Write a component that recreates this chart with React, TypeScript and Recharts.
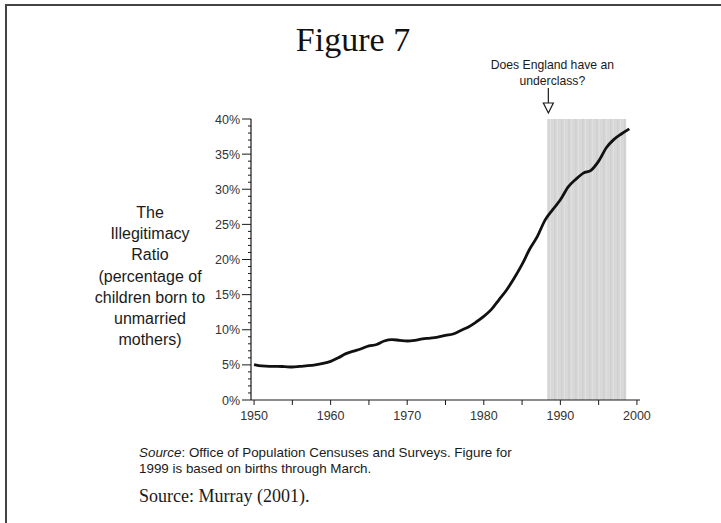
import React from 'react';
import {
  LineChart,
  Line,
  XAxis,
  YAxis,
  ReferenceArea,
  Label,
} from 'recharts';

// Illegitimacy ratio in England & Wales, 1950–1999 (percent)
const years = [
  1950, 1951, 1952, 1953, 1954, 1955, 1956, 1957, 1958, 1959,
  1960, 1961, 1962, 1963, 1964, 1965, 1966, 1967, 1968, 1969,
  1970, 1971, 1972, 1973, 1974, 1975, 1976, 1977, 1978, 1979,
  1980, 1981, 1982, 1983, 1984, 1985, 1986, 1987, 1988, 1989,
  1990, 1991, 1992, 1993, 1994, 1995, 1996, 1997, 1998, 1999,
];
const ratio = [
  5.05, 4.85, 4.8, 4.8, 4.75, 4.7, 4.8, 4.88, 5.0, 5.2,
  5.5, 6.0, 6.6, 6.95, 7.3, 7.7, 7.9, 8.4, 8.6, 8.5,
  8.4, 8.5, 8.7, 8.8, 8.95, 9.2, 9.4, 9.9, 10.4, 11.1,
  11.9, 12.9, 14.3, 15.7, 17.4, 19.3, 21.5, 23.3, 25.6, 27.1,
  28.5, 30.3, 31.4, 32.3, 32.7, 34.0, 35.9, 37.1, 37.9, 38.6,
];

const xTicks = [1950, 1955, 1960, 1965, 1970, 1975, 1980, 1985, 1990, 1995, 2000];
const xLabels = [1950, 1960, 1970, 1980, 1990, 2000];
const yTicks = [
  0, 1, 2, 3, 4, 5, 6, 7, 8, 9, 10, 11, 12, 13, 14, 15, 16, 17, 18, 19, 20,
  21, 22, 23, 24, 25, 26, 27, 28, 29, 30, 31, 32, 33, 34, 35, 36, 37, 38, 39, 40,
];
const yLabels = [0, 5, 10, 15, 20, 25, 30, 35, 40];

// "Does England have an underclass?" period
const shadeStart = 1988.3;
const shadeEnd = 1998.6;
const annotation = ['Does England have an', 'underclass?'];

const yTitle = [
  'The',
  'Illegitimacy',
  'Ratio',
  '(percentage of',
  'children born to',
  'unmarried',
  'mothers)',
];

const data = years.map((year, i) => ({ year, ratio: ratio[i] }));

const SANS = '"Liberation Sans", Arial, sans-serif';
const SERIF = '"Liberation Serif", "Times New Roman", serif';
const INK = '#1a1a1a';

function YTick({ x, y, payload }: any) {
  const major = yLabels.includes(payload.value);
  return (
    <g>
      <line x1={x - (major ? 9 : 3)} x2={x} y1={y} y2={y} stroke={INK} strokeWidth={1} />
      {major && (
        <text x={x - 11} y={y} dy={4.5} textAnchor="end" fontSize={12.5} fontFamily={SANS} fill="#333">
          {payload.value}%
        </text>
      )}
    </g>
  );
}

function XTick({ x, y, payload }: any) {
  return (
    <g>
      <line x1={x} x2={x} y1={y} y2={y + 5} stroke={INK} strokeWidth={1} />
      {xLabels.includes(payload.value) && (
        <text x={x} y={y + 20} textAnchor="middle" fontSize={12.5} fontFamily={SANS} fill="#333">
          {payload.value}
        </text>
      )}
    </g>
  );
}

function Annotation({ viewBox }: any) {
  if (!viewBox) return null;
  const ax = viewBox.x + 1;
  const top = viewBox.y;
  return (
    <g>
      {annotation.map((line, i) => (
        <text
          key={line}
          x={ax + 4}
          y={top - 50 + i * 16}
          textAnchor="middle"
          fontSize={12.2}
          fontFamily={SANS}
          fill={INK}
        >
          {line}
        </text>
      ))}
      <line x1={ax} x2={ax} y1={top - 31} y2={top - 16} stroke={INK} strokeWidth={1.2} />
      <path
        d={`M${ax - 5},${top - 16} L${ax + 5},${top - 16} L${ax},${top - 6} Z`}
        fill="#fff"
        stroke={INK}
        strokeWidth={1.2}
      />
    </g>
  );
}

export default function App() {
  return (
    <div
      style={{
        position: 'absolute',
        left: 0,
        top: 0,
        width: 721,
        height: 523,
        background: '#fff',
        overflow: 'hidden',
      }}
    >
      {/* page frame */}
      <div style={{ position: 'absolute', left: 5, top: 4, width: 716, height: 1.5, background: '#444' }} />
      <div style={{ position: 'absolute', left: 5, top: 4, width: 1.5, height: 519, background: '#444' }} />

      <div
        style={{
          position: 'absolute',
          left: 253,
          width: 200,
          top: 23,
          textAlign: 'center',
          fontFamily: SERIF,
          fontSize: 34,
          lineHeight: '34px',
          color: '#111',
        }}
      >
        Figure 7
      </div>

      <LineChart
        width={721}
        height={523}
        data={data}
        margin={{ top: 119, right: 81, bottom: 93, left: 191 }}
        style={{ position: 'absolute', left: 0, top: 0 }}
      >
        <defs>
          <pattern id="stripes" width="7" height="40" patternUnits="userSpaceOnUse">
            <rect width="7" height="40" fill="#d8d8d8" />
            <rect x="1" width="1.5" height="40" fill="#d0d0d0" />
            <rect x="4" width="1" height="40" fill="#e0e0e0" />
          </pattern>
        </defs>
        <XAxis
          dataKey="year"
          type="number"
          domain={[1949.6, 2000.4]}
          ticks={xTicks}
          interval={0}
          height={30}
          tickSize={0}
          tickMargin={0}
          tick={<XTick />}
          axisLine={{ stroke: INK, strokeWidth: 1.2 }}
        />
        <YAxis
          type="number"
          domain={[0, 40]}
          ticks={yTicks}
          interval={0}
          width={60}
          tickSize={0}
          tickMargin={0}
          tick={<YTick />}
          axisLine={{ stroke: INK, strokeWidth: 1.2 }}
        />
        <ReferenceArea x1={shadeStart} x2={shadeEnd} y1={0} y2={40} fill="url(#stripes)" fillOpacity={1}>
          <Label content={<Annotation />} />
        </ReferenceArea>
        <Line
          type="monotone"
          dataKey="ratio"
          stroke="#111"
          strokeWidth={2.8}
          dot={false}
          isAnimationActive={false}
        />
      </LineChart>

      <div
        style={{
          position: 'absolute',
          left: 50,
          width: 200,
          top: 202,
          textAlign: 'center',
          fontFamily: SANS,
          fontSize: 16,
          lineHeight: '21.2px',
          color: INK,
        }}
      >
        {yTitle.map((line) => (
          <div key={line}>{line}</div>
        ))}
      </div>

      <div
        style={{
          position: 'absolute',
          left: 139,
          top: 445,
          fontFamily: SANS,
          fontSize: 13.4,
          lineHeight: '16px',
          color: INK,
        }}
      >
        <div>
          <i>Source</i>: Office of Population Censuses and Surveys. Figure for
        </div>
        <div>1999 is based on births through March.</div>
      </div>

      <div
        style={{
          position: 'absolute',
          left: 139,
          top: 486,
          fontFamily: SERIF,
          fontSize: 18,
          lineHeight: '20px',
          color: INK,
        }}
      >
        Source: Murray (2001).
      </div>
    </div>
  );
}
